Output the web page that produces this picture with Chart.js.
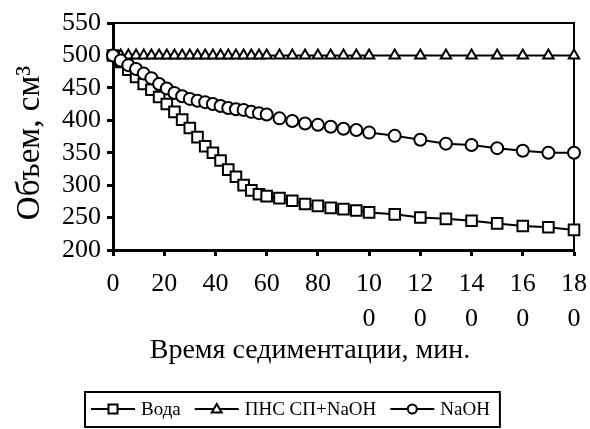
<!DOCTYPE html>
<html>
<head>
<meta charset="utf-8">
<script src="https://cdn.jsdelivr.net/npm/chart.js@4/dist/chart.umd.min.js"></script>
<style>
  body { margin: 0; background: #fff; overflow: hidden; }
  #wrap { width: 590px; height: 429px; position: relative; }
  canvas { display: block; }
</style>
</head>
<body>
<div id="wrap"><canvas id="chart"></canvas></div>
<script>
// Время седиментации, мин.
const tiempos = [0, 3, 6, 9, 12, 15, 18, 21, 24, 27, 30, 33, 36, 39, 42, 45, 48, 51, 54, 57, 60,
    65, 70, 75, 80, 85, 90, 95, 100,
    110, 120, 130, 140, 150, 160, 170, 180];

// Объем, см3
const voda = [500, 490, 478, 467, 456, 447, 436, 425, 413, 401, 388, 374, 360, 350, 338, 324, 313, 300, 292, 286, 283,
    280, 276, 271, 268, 265, 263, 261, 258,
    255, 250, 248, 245, 241, 237, 235, 231];
const pnsNaoh = [500, 500, 500, 500, 500, 500, 500, 500, 500, 500, 500, 500, 500, 500, 500, 500, 500, 500, 500, 500, 500,
    500, 500, 500, 500, 500, 500, 500, 500,
    500, 500, 500, 500, 500, 500, 500, 500];
const naoh = [500, 492, 485, 479, 472, 465, 456, 449, 442, 437, 433, 430, 428, 425, 422, 419, 417, 416, 413, 411, 409,
    403, 399, 395, 393, 390, 387, 385, 381,
    376, 370, 364, 362, 357, 353, 350, 350];

const nombres = ['Вода', 'ПНС СП+NaOH', 'NaOH'];
const estilos = ['rect', 'triangle', 'circle'];
const tituloX = 'Время седиментации, мин.';
const tituloY = 'Объем, см³';

const fuente = 'Liberation Serif';

function puntos(valores) {
    return tiempos.map((t, i) => ({ x: t, y: valores[i] }));
}

function serie(nombre, valores, estilo, radio, orden) {
    return {
        label: nombre,
        data: puntos(valores),
        showLine: true,
        borderColor: '#000',
        borderWidth: 2,
        pointStyle: estilo,
        pointRadius: radio,
        pointHoverRadius: radio,
        pointBackgroundColor: '#fff',
        pointBorderColor: '#000',
        pointBorderWidth: 2,
        clip: false,
        order: orden
    };
}

// marco superior y derecho del area de trazado
const marco = {
    id: 'marco',
    beforeDatasetsDraw(chart) {
        const { ctx, chartArea: a } = chart;
        ctx.save();
        ctx.strokeStyle = '#000';
        ctx.lineWidth = 2;
        ctx.beginPath();
        ctx.moveTo(a.left, a.top);
        ctx.lineTo(a.right, a.top);
        ctx.lineTo(a.right, a.bottom);
        ctx.stroke();
        ctx.restore();
    }
};

function marcador(ctx, estilo, x, y, r) {
    ctx.beginPath();
    if (estilo === 'rect') {
        ctx.rect(x - r, y - r, 2 * r, 2 * r);
    } else if (estilo === 'triangle') {
        ctx.moveTo(x, y - r * 1.1);
        ctx.lineTo(x + r * 1.1, y + r * 0.8);
        ctx.lineTo(x - r * 1.1, y + r * 0.8);
        ctx.closePath();
    } else {
        ctx.arc(x, y, r, 0, Math.PI * 2);
    }
    ctx.fill();
    ctx.stroke();
}

// titulos de los ejes (colocados como en el original) y leyenda con recuadro
const leyenda = {
    id: 'leyenda',
    afterDraw(chart) {
        const ctx = chart.ctx;
        ctx.save();
        ctx.fillStyle = '#000';
        ctx.strokeStyle = '#000';

        ctx.font = '28px "' + fuente + '"';
        ctx.textAlign = 'center';
        ctx.textBaseline = 'middle';
        ctx.fillText(tituloX, 310, 351);

        ctx.save();
        ctx.translate(30, 143);
        ctx.rotate(-Math.PI / 2);
        ctx.font = '33px "' + fuente + '"';
        ctx.fillText(tituloY, 0, 0);
        ctx.restore();

        ctx.font = '19px "' + fuente + '"';
        ctx.textAlign = 'left';
        const y = 409;
        let x = 91;
        nombres.forEach((nombre, i) => {
            ctx.lineWidth = 2;
            ctx.beginPath();
            ctx.moveTo(x, y);
            ctx.lineTo(x + 44, y);
            ctx.stroke();
            ctx.fillStyle = '#fff';
            marcador(ctx, estilos[i], x + 22, y, 4.5);
            ctx.fillStyle = '#000';
            ctx.fillText(nombre, x + 50, y + 1);
            x += 50 + ctx.measureText(nombre).width + 14;
        });
        ctx.lineWidth = 2;
        ctx.strokeRect(85, 392, x - 85 - 4, 35);
        ctx.restore();
    }
};

const ctx = document.getElementById('chart').getContext('2d');
const grafica = new Chart(ctx, {
    type: 'scatter',
    data: {
        datasets: [
            serie(nombres[0], voda, estilos[0], 7.5, 3),
            serie(nombres[1], pnsNaoh, estilos[1], 6, 2),
            serie(nombres[2], naoh, estilos[2], 6, 1)
        ]
    },
    options: {
        responsive: true,
        maintainAspectRatio: false,
        animation: false,
        layout: { padding: { top: 23, right: 16, bottom: 39, left: 0 } },
        plugins: {
            legend: { display: false },
            tooltip: { enabled: false }
        },
        scales: {
            x: {
                type: 'linear',
                min: 0,
                max: 180,
                afterFit(scale) {
                    scale.height = 140;
                    scale.paddingLeft = 0;
                    scale.paddingRight = 0;
                },
                border: { display: true, color: '#000', width: 3 },
                grid: { display: true, drawOnChartArea: false, drawTicks: true, tickLength: 6, tickWidth: 3, tickColor: '#000' },
                ticks: {
                    stepSize: 20,
                    autoSkip: false,
                    maxRotation: 0,
                    minRotation: 0,
                    padding: 11,
                    color: '#000',
                    font: { family: fuente, size: 26, lineHeight: 1.35 },
                    callback(valor) {
                        const s = String(valor);
                        return s.length > 2 ? [s.slice(0, 2), s.slice(2)] : s;
                    }
                },
                title: { display: false }
            },
            y: {
                min: 200,
                max: 550,
                afterFit(scale) {
                    scale.width = 113;
                    scale.paddingTop = 0;
                    scale.paddingBottom = 0;
                },
                border: { display: true, color: '#000', width: 3 },
                grid: { display: true, drawOnChartArea: false, drawTicks: true, tickLength: 6, tickWidth: 3, tickColor: '#000' },
                ticks: {
                    stepSize: 50,
                    autoSkip: false,
                    padding: 6,
                    color: '#000',
                    font: { family: fuente, size: 26 }
                },
                title: { display: false }
            }
        }
    },
    plugins: [marco, leyenda]
});
</script>
</body>
</html>
